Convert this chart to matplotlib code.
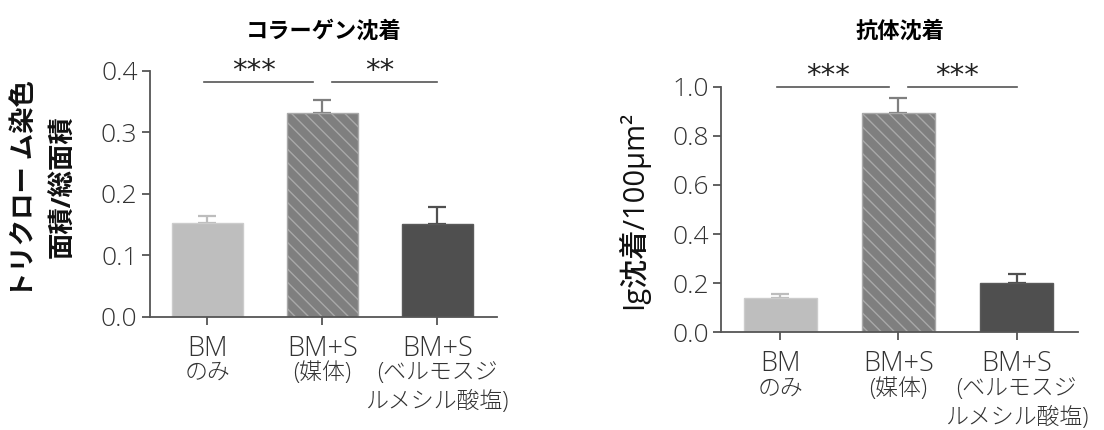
import matplotlib
matplotlib.use("Agg")
import numpy as np
import matplotlib.pyplot as plt
from matplotlib.lines import Line2D
from matplotlib.transforms import IdentityTransform

plt.rcParams['font.family'] = ['Open Sans', 'Noto Sans CJK JP', 'DejaVu Sans']

# Data
codes = ['BM', 'BM+S', 'BM+S']
notes = [['のみ'], ['(媒体)'], ['(ベルモスジ', 'ルメシル酸塩)']]
collagen_mean = [0.152, 0.332, 0.150]
collagen_err = [0.012, 0.021, 0.028]
antibody_mean = [0.141, 0.894, 0.202]
antibody_err = [0.016, 0.060, 0.035]
collagen_sig = ['***', '**']
antibody_sig = ['***', '***']

bar_colors = ['#bebebe', '#7f7f7f', '#4f4f4f']
edge_colors = ['#cccccc', '#a9a9a9', '#5a5a5a']
err_colors = ['#bdbdbd', '#7f7f7f', '#505050']

fig = plt.figure(figsize=(11.04, 4.30), dpi=100)
ax1 = fig.add_axes([0.1359, 0.2635, 0.3143, 0.5721])
ax2 = fig.add_axes([0.6533, 0.2272, 0.3231, 0.5712])


def hatch_bar(ax, bar, spacing=13.3, color='#a9a9a9'):
    # diagonal stripes in pixel space, clipped to the bar
    (x0, y0), (x1, y1) = ax.transData.transform([(bar.get_x(), 0),
                                                 (bar.get_x() + bar.get_width(), bar.get_height())])
    span = (x1 - x0) + (y1 - y0)
    for c in np.arange(-span, x1 - x0 + spacing, spacing):
        ln = Line2D([x0 + c, x0 + c + span], [y1, y1 - span], color=color, lw=1.0,
                    transform=IdentityTransform(), zorder=2.5)
        ax.add_artist(ln)
        ln.set_clip_path(bar)


def draw_panel(ax, means, errs, ymax, yticks, sig, sig_y, star_y, title, title_pad):
    x = np.arange(len(codes))
    ax.set_xlim(-0.5, 2.52)
    ax.set_ylim(0, ymax)
    bars = ax.bar(x, means, width=0.62, color=bar_colors, edgecolor=edge_colors,
                  linewidth=1.0, zorder=2)
    for i in x:
        ax.errorbar(i, means[i], yerr=[[0], [errs[i]]], fmt='none',
                    ecolor=err_colors[i], elinewidth=1.6, capsize=6.8,
                    capthick=1.6, zorder=1)
    hatch_bar(ax, bars[1])

    ax.set_yticks(yticks)
    ax.set_yticklabels([f'{t:.1f}' for t in yticks])
    ax.set_xticks(x)
    ax.set_xticklabels(codes)

    for s in ['top', 'right']:
        ax.spines[s].set_visible(False)
    for s in ['left', 'bottom']:
        ax.spines[s].set_color('#555555')
        ax.spines[s].set_linewidth(1.3)
    ax.tick_params(axis='both', colors='#555555', width=1.3, length=6)
    ax.tick_params(axis='y', labelsize=19, labelcolor='#333333', pad=3)
    ax.tick_params(axis='x', labelsize=19.5, labelcolor='#333333', pad=7)
    for lab in ax.get_xticklabels() + ax.get_yticklabels():
        lab.set_fontweight('light')

    # remaining lines of each category label
    for i, lines in zip(x, notes):
        for k, n in enumerate(lines):
            ax.annotate(n, xy=(i, 0), xycoords=('data', 'axes fraction'),
                        xytext=(0, -40.5 - 21 * k), textcoords='offset points',
                        ha='center', va='center', fontsize=16.5, fontweight='light',
                        color='#333333')

    # significance brackets
    spans = [(-0.03, 0.92), (1.08, 2.0)]
    for (a, b), txt in zip(spans, sig):
        ax.plot([a, b], [sig_y, sig_y], color='#555555', lw=1.2, clip_on=False)
        ax.text((a + b) / 2 - 0.04, star_y, txt, ha='center', va='baseline',
                fontsize=21, family='DejaVu Sans', color='#222222', clip_on=False)

    ax.set_title(title, fontsize=16, fontweight='bold', pad=title_pad)


draw_panel(ax1, collagen_mean, collagen_err, 0.4, [0.0, 0.1, 0.2, 0.3, 0.4],
           collagen_sig, 0.382, 0.387, 'コラーゲン沈着', 23.5)
draw_panel(ax2, antibody_mean, antibody_err, 1.0, [0.0, 0.2, 0.4, 0.6, 0.8, 1.0],
           antibody_sig, 0.997, 1.009, '抗体沈着', 35.5)

# y-axis labels
fig.text(25 / 1104, 1 - 189 / 430, 'トリクロー ム染色', rotation=90, ha='center', va='center',
         fontsize=19, fontweight='bold', color='#111111')
fig.text(63 / 1104, 1 - 187 / 430, '面積/総面積', rotation=90, ha='center', va='center',
         fontsize=19, fontweight='bold', color='#111111')
fig.text(633 / 1104, 1 - 210 / 430, 'Ig沈着/100μm²', rotation=90, ha='center', va='center',
         fontsize=21, fontweight='medium', color='#111111')

fig.savefig('out.png', dpi=100)
